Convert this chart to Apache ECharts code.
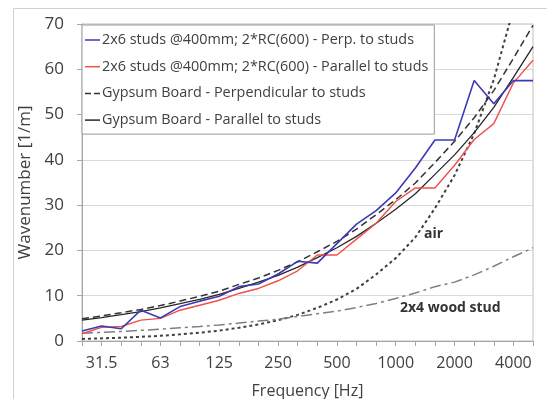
<!DOCTYPE html>
<html>
<head>
<meta charset="utf-8">
<script src="https://cdn.jsdelivr.net/npm/echarts@6/dist/echarts.min.js"></script>
<style>
html, body { margin: 0; padding: 0; background: #fff; }
#chart { width: 547px; height: 399px; }
</style>
</head>
<body>
<div id="chart"></div>
<script>
// third-octave bands
var freqs = ['25', '31.5', '40', '50', '63', '80', '100', '125', '160', '200', '250', '315',
    '400', '500', '630', '800', '1000', '1250', '1600', '2000', '2500', '3150', '4000', '5000'];

var perpStuds = [2.2, 3.3, 2.7, 6.8, 5.1, 7.6, 8.8, 9.9, 12.0, 12.6, 14.8, 17.6,
    17.2, 21.5, 25.8, 28.8, 32.7, 38.2, 44.4, 44.4, 57.5, 52.4, 57.5, 57.5];
var parallelStuds = [1.6, 3.0, 3.2, 4.6, 5.0, 6.8, 7.9, 9.0, 10.5, 11.6, 13.3, 15.5,
    19.0, 19.0, 22.5, 26.0, 30.8, 33.8, 33.8, 38.8, 44.5, 48.0, 57.0, 62.0];
var gypsumPerp = [4.93, 5.53, 6.24, 6.97, 7.82, 8.82, 9.86, 11.0, 12.5, 13.9, 15.6, 17.5,
    19.7, 22.0, 24.7, 27.9, 31.2, 34.9, 39.4, 44.1, 49.3, 55.3, 62.4, 69.7];
var gypsumPar = [4.6, 5.16, 5.82, 6.5, 7.3, 8.23, 9.2, 10.3, 11.6, 13.0, 14.5, 16.3,
    18.4, 20.6, 23.1, 26.0, 29.1, 32.5, 36.8, 41.1, 46.0, 51.6, 58.2, 65.0];
var air = [0.46, 0.58, 0.73, 0.92, 1.15, 1.47, 1.83, 2.29, 2.93, 3.66, 4.58, 5.77,
    7.33, 9.16, 11.5, 14.7, 18.3, 22.9, 29.3, 36.6, 45.8, 57.7, 73.3, 91.6];
var woodStud = [1.7, 1.9, 2.1, 2.35, 2.6, 2.9, 3.2, 3.55, 3.95, 4.4, 4.8, 5.4,
    6.0, 6.6, 7.4, 8.3, 9.4, 10.6, 12.0, 13.0, 14.6, 16.5, 18.6, 20.6];

var names = [
    '2x6 studs @400mm; 2*RC(600) - Perp. to studs',
    '2x6 studs @400mm; 2*RC(600) - Parallel to studs',
    'Gypsum Board - Perpendicular to studs',
    'Gypsum Board - Parallel to studs'
];

var font = 'Open Sans';
var solidIcon = 'path://M0,0h15v1.5h-15z';
var dashIcon = 'path://M0,0h6v1.5h-6z M9,0h6v1.5h-6z';

var myChart = echarts.init(document.getElementById('chart'));

function lineSeries(name, data, color, width, dash) {
    return {
        name: name,
        type: 'line',
        data: data,
        symbol: 'none',
        clip: true,
        lineStyle: { color: color, width: width, type: dash || 'solid' },
        itemStyle: { color: color }
    };
}

myChart.setOption({
    animation: false,
    backgroundColor: '#fff',
    graphic: [
        // outer chart frame
        { type: 'rect', shape: { x: 13.5, y: 8.5, width: 560, height: 420 }, style: { fill: 'none', stroke: '#d0d0d0', lineWidth: 1 }, z: -1 },
        { type: 'text', left: 424, top: 227, style: { text: 'air', font: 'bold 14px "Open Sans"', fill: '#333' } },
        { type: 'text', left: 400, top: 301, style: { text: '2x4 wood stud', font: 'bold 14px "Open Sans"', fill: '#333' } }
    ],
    grid: {
        left: 82, right: 14, top: 24, bottom: 58,
        outerBoundsMode: 'none',
        show: true, borderColor: '#bfbfbf', borderWidth: 1
    },
    legend: {
        data: [
            { name: names[0], icon: solidIcon },
            { name: names[1], icon: solidIcon },
            { name: names[2], icon: dashIcon },
            { name: names[3], icon: solidIcon }
        ],
        orient: 'vertical',
        left: 82,
        top: 25,
        padding: [6, 6, 5, 3],
        itemWidth: 15,
        itemHeight: 1.5,
        itemGap: 8.7,
        symbolKeepAspect: false,
        backgroundColor: '#fff',
        borderColor: '#999',
        borderWidth: 1,
        textStyle: { fontFamily: font, fontSize: 14.4, color: '#404040', lineHeight: 18, padding: [0, 0, 0, -3] }
    },
    xAxis: {
        type: 'category',
        data: freqs,
        boundaryGap: false,
        name: 'Frequency [Hz]',
        nameLocation: 'middle',
        nameGap: 42,
        nameTextStyle: { fontFamily: font, fontSize: 16, color: '#404040' },
        axisLine: { lineStyle: { color: '#a6a6a6' } },
        axisTick: { show: true, interval: 0, length: 5, lineStyle: { color: '#a6a6a6' } },
        axisLabel: {
            fontFamily: font, fontSize: 16, color: '#404040', margin: 14,
            interval: function (index) { return index % 3 === 1; }
        },
        splitLine: { show: false }
    },
    yAxis: {
        type: 'value',
        min: 0,
        max: 70,
        interval: 10,
        name: 'Wavenumber [1/m]',
        nameLocation: 'middle',
        nameGap: 38,
        nameTextStyle: { fontFamily: font, fontSize: 17, color: '#404040' },
        axisLine: { show: true, lineStyle: { color: '#a6a6a6' } },
        axisTick: { show: true, length: 5, lineStyle: { color: '#a6a6a6' } },
        axisLabel: { fontFamily: font, fontSize: 17, color: '#404040', margin: 18 },
        splitLine: { lineStyle: { color: '#d9d9d9' } }
    },
    series: [
        lineSeries('air', air, '#404040', 2, [3, 3]),
        lineSeries('wood', woodStud, '#7f7f7f', 1.5, [11, 4, 3, 4]),
        lineSeries(names[2], gypsumPerp, '#333333', 1.5, [7, 4]),
        lineSeries(names[3], gypsumPar, '#262626', 1.3),
        lineSeries(names[1], parallelStuds, '#f0504a', 1.4),
        lineSeries(names[0], perpStuds, '#3b3bb5', 1.6)
    ]
});
</script>
</body>
</html>
